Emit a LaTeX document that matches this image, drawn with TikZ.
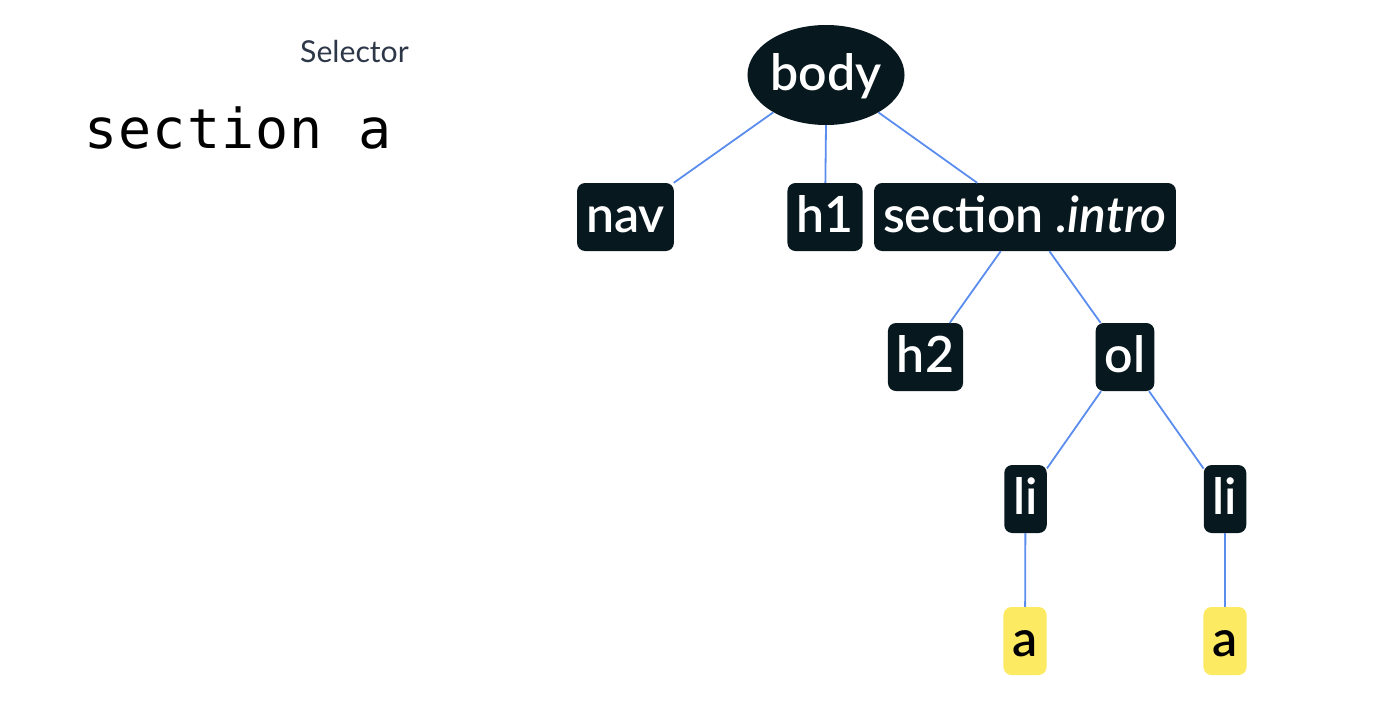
\documentclass[tikz,border=0pt]{standalone}
\usepackage{fontspec}
\setmainfont{Lato}
\newfontfamily\tagfont{Lato Semibold}[ItalicFont=* Italic]
\newfontfamily\monofont{DejaVu Sans Mono}
\definecolor{nodedark}{HTML}{08181F}
\definecolor{hiyellow}{HTML}{FCEB62}
\definecolor{edgeblue}{HTML}{5B8DEF}
\definecolor{labelgray}{HTML}{2D3748}
\newcommand{\mch}[1]{\makebox[34.3pt][l]{#1}}
\tikzset{
  tag/.style={fill=nodedark, text=white, rounded corners=8pt, minimum height=68pt,
    inner xsep=9pt, inner ysep=0pt, text height=34pt, text depth=4pt,
    font=\tagfont\fontsize{50}{60}\selectfont},
  hit/.style={tag, fill=hiyellow, text=black},
  rootnode/.style={ellipse, fill=nodedark, text=white, minimum width=155pt, minimum height=100pt,
    inner sep=0pt, text height=34pt, text depth=4pt, font=\tagfont\fontsize{50}{60}\selectfont},
  edge/.style={draw=edgeblue, line width=1.8pt}
}
\usetikzlibrary{shapes.geometric}
\begin{document}
\begin{tikzpicture}[x=1pt,y=-1pt]
\useasboundingbox (0,0) rectangle (1374,712);
\node[anchor=base west, text=labelgray, font=\fontsize{30.2}{36}\selectfont, inner sep=0pt] (sel) at (300,62) {Selector};
\node[anchor=base west, inner sep=0pt, font=\monofont\fontsize{55}{66}\selectfont] (query) at (84,148) {\mch{s}\mch{e}\mch{c}\mch{t}\mch{i}\mch{o}\mch{n}\mch{ }\mch{a}};

\node[rootnode] (body) at (826,75) {body};
\node[tag] (nav) at (625.5,217) {nav};
\node[tag] (h1) at (825,217) {h1};
\node[tag] (sec) at (1025,217) {section \textit{.intro}};
\node[tag] (h2) at (925.5,357) {h2};
\node[tag] (ol) at (1125,357) {ol};
\node[tag] (li1) at (1025.5,499) {li};
\node[tag] (li2) at (1225,499) {li};
\node[hit] (a1) at (1025,641) {a};
\node[hit] (a2) at (1225,641) {a};

\draw[edge] (body) -- (nav);
\draw[edge] (body.south) -- (h1);
\draw[edge] (body) -- (sec);
\draw[edge] (sec) -- (h2);
\draw[edge] (sec) -- (ol);
\draw[edge] (ol) -- (li1);
\draw[edge] (ol) -- (li2);
\draw[edge] (li1) -- (a1);
\draw[edge] (li2) -- (a2);
\end{tikzpicture}
\end{document}
